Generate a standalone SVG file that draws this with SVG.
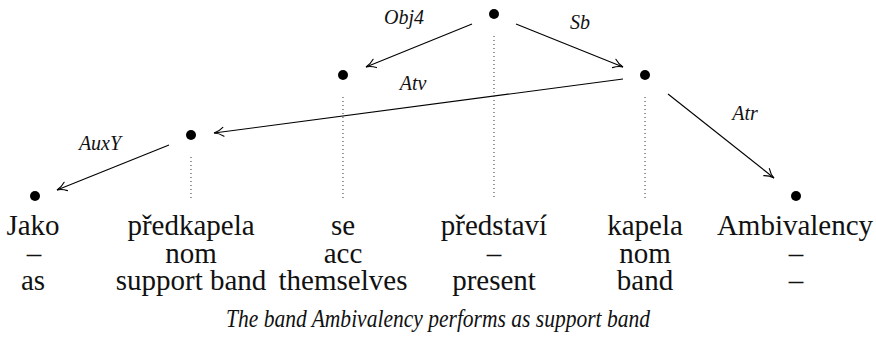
<svg xmlns="http://www.w3.org/2000/svg" width="876" height="345" viewBox="0 0 876 345">
  <defs>
    <marker id="to" viewBox="-11 -6 13 12" markerWidth="13" markerHeight="12" refX="0" refY="0" orient="auto" markerUnits="userSpaceOnUse">
      <path d="M-9.5,-4.5 C-6,-1.6 -2.5,-0.4 0,0 C-2.5,0.4 -6,1.6 -9.5,4.5" fill="none" stroke="#000" stroke-width="1.1" stroke-linecap="round"/>
    </marker>
    <style>
      .word { font-family: "Liberation Serif", "Times New Roman", serif; font-size: 29px; fill: #111; text-anchor: middle; }
      .rel { font-family: "Liberation Serif", "Times New Roman", serif; font-style: italic; font-size: 20px; fill: #111; text-anchor: middle; }
      .gloss { font-family: "Liberation Serif", "Times New Roman", serif; font-style: italic; font-size: 26px; fill: #111; text-anchor: middle; }
      .dot { fill: #000; }
      .proj { stroke: #333; stroke-width: 1; stroke-dasharray: 1 3; fill: none; }
      .edge { stroke: #000; stroke-width: 1.1; fill: none; marker-end: url(#to); }
    </style>
  </defs>
  <rect width="876" height="345" fill="#fff"/>

  <!-- dependency edges with relation labels -->
  <g id="edges">
    <line class="edge" x1="472" y1="24" x2="366" y2="67"/>
    <line class="edge" x1="516" y1="24" x2="623" y2="67"/>
    <line class="edge" x1="623" y1="79" x2="214" y2="133"/>
    <line class="edge" x1="169" y1="145" x2="57" y2="190"/>
    <line class="edge" x1="668" y1="94" x2="774" y2="178"/>
    <text class="rel" x="404" y="24">Obj4</text>
    <text class="rel" x="580" y="29">Sb</text>
    <text class="rel" x="413" y="90">Atv</text>
    <text class="rel" x="100" y="150">AuxY</text>
    <text class="rel" x="745" y="120">Atr</text>
  </g>

  <!-- tokens: tree node, projection line, form / case / gloss -->
  <g id="jako">
    <circle class="dot" cx="35" cy="196" r="5"/>
    <text class="word" x="33" y="235">Jako</text>
    <text class="word" x="34" y="263">–</text>
    <text class="word" x="33" y="290">as</text>
  </g>
  <g id="predkapela">
    <circle class="dot" cx="191" cy="135" r="5"/>
    <line class="proj" x1="191" y1="157" x2="191" y2="200"/>
    <text class="word" x="191" y="235">předkapela</text>
    <text class="word" x="191" y="263">nom</text>
    <text class="word" x="191" y="290">support band</text>
  </g>
  <g id="se">
    <circle class="dot" cx="343" cy="75" r="5"/>
    <line class="proj" x1="343" y1="97" x2="343" y2="200"/>
    <text class="word" x="343" y="235">se</text>
    <text class="word" x="343" y="263">acc</text>
    <text class="word" x="343" y="290">themselves</text>
  </g>
  <g id="predstavi">
    <circle class="dot" cx="494" cy="14" r="5"/>
    <line class="proj" x1="494" y1="36" x2="494" y2="200"/>
    <text class="word" x="494" y="235">představí</text>
    <text class="word" x="494" y="263">–</text>
    <text class="word" x="494" y="290">present</text>
  </g>
  <g id="kapela">
    <circle class="dot" cx="645" cy="75" r="5"/>
    <line class="proj" x1="645" y1="97" x2="645" y2="200"/>
    <text class="word" x="645" y="235">kapela</text>
    <text class="word" x="645" y="263">nom</text>
    <text class="word" x="645" y="290">band</text>
  </g>
  <g id="ambivalency">
    <circle class="dot" cx="796" cy="196" r="5"/>
    <text class="word" x="795" y="235">Ambivalency</text>
    <text class="word" x="796" y="263">–</text>
    <text class="word" x="796" y="290">–</text>
  </g>

  <text class="gloss" x="438" y="327" textLength="424" lengthAdjust="spacingAndGlyphs">The band Ambivalency performs as support band</text>
</svg>
